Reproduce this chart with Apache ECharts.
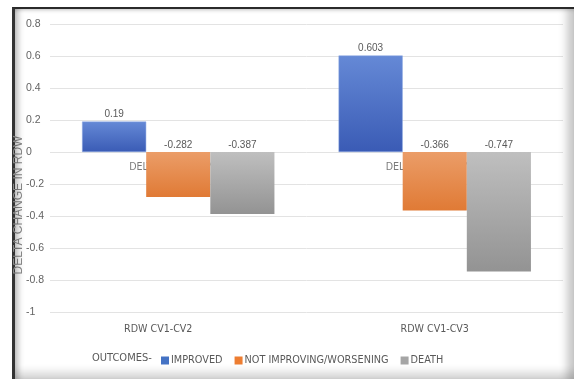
<!DOCTYPE html>
<html>
<head>
<meta charset="utf-8">
<script src="https://cdn.jsdelivr.net/npm/echarts@6/dist/echarts.min.js"></script>
<style>
  html, body { margin: 0; padding: 0; background: #fff; }
  #wrap { position: relative; width: 574px; height: 379px; overflow: hidden; background: #fff; }
  #frame {
    position: absolute; left: 12px; top: 7px; width: 580px; height: 390px;
    border-top: 2px solid #2a2a2a; border-left: 3px solid #333;
    box-sizing: border-box; background: #fff;
  }
  #shade {
    position: absolute; left: 15px; top: 9px; width: 559px; height: 370px;
    box-shadow: inset 7px 0 6px -4px rgba(0,0,0,0.28),
                inset 0 4px 4px -3px rgba(0,0,0,0.18),
                inset -11px 0 8px -4px rgba(0,0,0,0.22),
                inset 0 -12px 8px -5px rgba(0,0,0,0.16);
    pointer-events: none;
  }
  #chart { position: absolute; left: 0; top: 0; width: 574px; height: 379px; }
</style>
</head>
<body>
<div id="wrap">
  <div id="frame"></div>
  <div id="chart"></div>
  <div id="shade"></div>
</div>
<script>
// Delta change in RDW by outcome group
const categories = ['RDW CV1-CV2', 'RDW CV1-CV3'];
const improved = [0.19, 0.603];
const notImproving = [-0.282, -0.366];
const death = [-0.387, -0.747];
const yTicks = { min: -1, max: 0.8, step: 0.2 };

const FONT = '"Liberation Sans", Arial, sans-serif';
const NARROW = '"Liberation Sans Narrow", "Arial Narrow", "DejaVu Sans Condensed", sans-serif';

function grad(top, bottom) {
  return new echarts.graphic.LinearGradient(0, 0, 0, 1, [
    { offset: 0, color: top }, { offset: 1, color: bottom }
  ]);
}

const labelCfg = {
  show: true, position: 'top', distance: 2,
  color: '#595959', fontSize: 10, fontFamily: FONT,
  formatter: p => String(p.value)
};

const chart = echarts.init(document.getElementById('chart'), null, { renderer: 'canvas' });
chart.setOption({
  animation: false,
  backgroundColor: 'transparent',
  grid: { left: 50, right: 11, top: 24, bottom: 67, containLabel: false },
  xAxis: {
    type: 'category',
    data: categories,
    axisLine: { show: false },
    axisTick: { show: false },
    axisLabel: {
      margin: 12, color: '#595959', fontSize: 10.6, fontFamily: NARROW,
      formatter: (v, i) => i === 0 ? '{a|' + v + '}' : v,
      rich: { a: { color: '#595959', fontSize: 10.6, fontFamily: NARROW, padding: [0, 40, 0, 0] } }
    }
  },
  yAxis: {
    type: 'value',
    min: yTicks.min, max: yTicks.max, interval: yTicks.step,
    axisLine: { show: false },
    axisTick: { show: false },
    splitLine: { lineStyle: { color: '#e3e3e3', width: 1 } },
    axisLabel: {
      align: 'left', margin: 24, color: '#636363', fontSize: 10.5, fontFamily: FONT,
      formatter: v => String(Math.round(v * 10) / 10)
    }
  },
  legend: {
    left: 161, top: 355, padding: 0,
    itemWidth: 8, itemHeight: 8, itemGap: 12,
    icon: 'rect',
    itemStyle: { borderWidth: 0 },
    textStyle: { color: '#595959', fontSize: 10.8, fontFamily: NARROW, padding: [1, 0, 0, -3] },
    data: [
      { name: 'IMPROVED', itemStyle: { color: '#4472c4', borderWidth: 0 } },
      { name: 'NOT IMPROVING/WORSENING', itemStyle: { color: '#ed7d31', borderWidth: 0 } },
      { name: 'DEATH', itemStyle: { color: '#a5a5a5', borderWidth: 0 } }
    ]
  },
  graphic: [
    {
      type: 'text', left: 92, top: 353,
      style: { text: 'OUTCOMES-', fill: '#595959', font: '11px ' + NARROW }
    },
    {
      type: 'text', x: 19, y: 205, rotation: Math.PI / 2,
      style: {
        text: 'DELTA CHANGE IN RDW', fill: '#8a8a8a', font: '12px ' + FONT,
        align: 'center', verticalAlign: 'middle'
      }
    }
  ],
  series: [
    {
      // Axis caption sitting under the zero line, mostly covered by the bars
      type: 'scatter', name: 'caption', z: 1, symbolSize: 0,
      data: [0, 0], silent: true,
      label: {
        show: true, position: 'bottom', distance: 10, offset: [7, 0],
        formatter: 'DELTA CHANGE IN RDW', color: '#595959', fontSize: 10.6, fontFamily: NARROW
      }
    },
    {
      type: 'bar', name: 'IMPROVED', data: improved, z: 3,
      barGap: '0%', barCategoryGap: '25%',
      itemStyle: { color: grad('#6589d6', '#3a5bb5'), borderColor: '#8aa6e0', borderWidth: 0.5 },
      label: labelCfg
    },
    {
      type: 'bar', name: 'NOT IMPROVING/WORSENING', data: notImproving, z: 3,
      itemStyle: { color: grad('#eb9d68', '#e07a35') },
      label: labelCfg
    },
    {
      type: 'bar', name: 'DEATH', data: death, z: 3,
      itemStyle: { color: grad('#bfbfbf', '#939393') },
      label: labelCfg
    }
  ]
});
</script>
</body>
</html>
